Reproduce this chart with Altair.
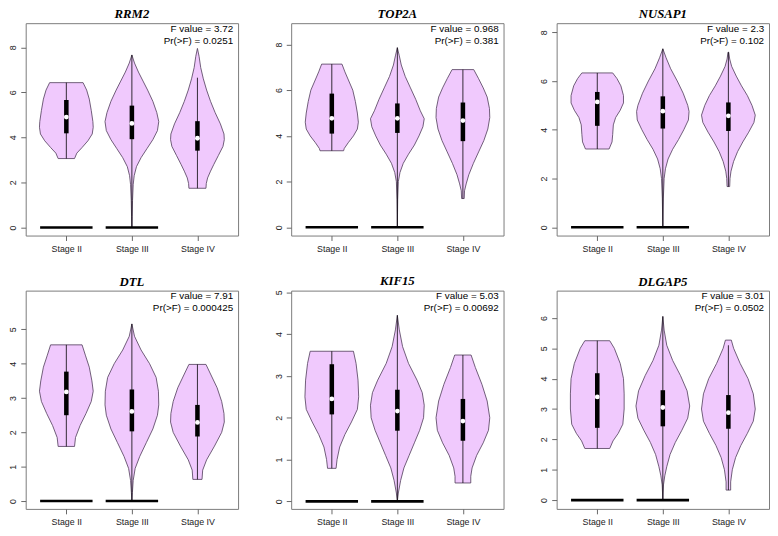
import altair as alt
import pandas as pd

STAGES = ["Stage II", "Stage III", "Stage IV"]
GENES = ["RRM2", "TOP2A", "NUSAP1", "DTL", "KIF15", "DLGAP5"]
F_VALUES = ["3.72", "0.968", "2.3", "7.91", "5.03", "3.01"]
P_VALUES = ["0.0251", "0.381", "0.102", "0.000425", "0.00692", "0.0502"]
ZERO_LINE_STAGES = ["Stage II", "Stage III"]

# violin outlines: (expression, half-width in stage units), top to bottom
RRM2_II = [(6.43, 0.255), (6.1, 0.31), (5.7, 0.35), (5.2, 0.38), (4.7, 0.405), (4.45, 0.41),
           (4.15, 0.395), (3.85, 0.33), (3.55, 0.24), (3.3, 0.16), (3.06, 0.125)]
RRM2_III = [(7.66, 0.0), (7.3, 0.04), (6.9, 0.1), (6.5, 0.17), (6.1, 0.24), (5.6, 0.32), (5.1, 0.38),
            (4.7, 0.41), (4.3, 0.39), (3.9, 0.32), (3.5, 0.23), (3.1, 0.14), (2.7, 0.07), (2.3, 0.035),
            (1.9, 0.02), (1.2, 0.01), (0.5, 0.005), (0.0, 0.0)]
RRM2_IV = [(7.95, 0.0), (7.6, 0.025), (7.1, 0.05), (6.6, 0.09), (6.1, 0.14), (5.6, 0.2), (5.1, 0.27),
           (4.6, 0.35), (4.15, 0.405), (3.9, 0.41), (3.6, 0.39), (3.2, 0.32), (2.8, 0.25), (2.5, 0.2),
           (2.2, 0.155), (1.95, 0.135), (1.74, 0.13)]

TOP2A_II = [(7.14, 0.155), (6.8, 0.2), (6.4, 0.26), (6.0, 0.32), (5.5, 0.36), (5.0, 0.39), (4.6, 0.405),
            (4.3, 0.39), (4.0, 0.33), (3.7, 0.25), (3.45, 0.19), (3.35, 0.18)]
TOP2A_III = [(7.86, 0.0), (7.5, 0.03), (7.1, 0.06), (6.6, 0.12), (6.1, 0.2), (5.6, 0.28), (5.1, 0.35),
             (4.75, 0.41), (4.4, 0.39), (4.0, 0.33), (3.6, 0.26), (3.2, 0.17), (2.8, 0.09), (2.4, 0.04),
             (2.0, 0.015), (1.2, 0.005), (0.0, 0.0)]
TOP2A_IV = [(6.9, 0.165), (6.5, 0.24), (6.1, 0.31), (5.7, 0.37), (5.2, 0.405), (4.8, 0.41), (4.3, 0.38),
            (3.8, 0.32), (3.3, 0.24), (2.8, 0.16), (2.3, 0.09), (1.9, 0.05), (1.6, 0.025), (1.26, 0.02)]

NUSAP1_II = [(6.33, 0.235), (6.1, 0.3), (5.8, 0.36), (5.4, 0.4), (5.1, 0.4), (4.8, 0.35), (4.5, 0.28),
             (4.2, 0.245), (3.8, 0.235), (3.5, 0.225), (3.21, 0.18)]
NUSAP1_III = [(7.32, 0.0), (6.95, 0.05), (6.5, 0.12), (6.0, 0.22), (5.5, 0.31), (5.0, 0.38), (4.75, 0.4),
              (4.4, 0.39), (4.0, 0.32), (3.6, 0.24), (3.2, 0.15), (2.8, 0.08), (2.4, 0.04), (2.0, 0.02),
              (1.2, 0.008), (0.0, 0.0)]
NUSAP1_IV = [(7.18, 0.005), (6.9, 0.02), (6.6, 0.05), (6.2, 0.12), (5.8, 0.2), (5.4, 0.29), (5.0, 0.36),
             (4.6, 0.41), (4.3, 0.39), (3.9, 0.31), (3.5, 0.22), (3.1, 0.14), (2.7, 0.08), (2.3, 0.04),
             (2.0, 0.025), (1.67, 0.02)]

DTL_II = [(4.55, 0.24), (4.25, 0.29), (3.9, 0.35), (3.5, 0.39), (3.2, 0.41), (2.9, 0.38), (2.55, 0.3),
          (2.2, 0.21), (1.85, 0.14), (1.59, 0.125)]
DTL_III = [(5.16, 0.0), (4.8, 0.04), (4.4, 0.14), (4.0, 0.27), (3.6, 0.37), (3.2, 0.405), (2.8, 0.41),
           (2.5, 0.39), (2.1, 0.32), (1.7, 0.22), (1.3, 0.12), (0.95, 0.05), (0.6, 0.02), (0.25, 0.008),
           (0.0, 0.0)]
DTL_IV = [(3.98, 0.13), (3.7, 0.2), (3.3, 0.3), (2.9, 0.37), (2.55, 0.405), (2.3, 0.41), (2.0, 0.37),
          (1.6, 0.26), (1.2, 0.14), (0.9, 0.08), (0.63, 0.07)]

KIF15_II = [(3.59, 0.33), (3.3, 0.37), (2.9, 0.4), (2.5, 0.41), (2.2, 0.39), (1.9, 0.3), (1.6, 0.2),
            (1.3, 0.12), (1.0, 0.08), (0.79, 0.065)]
KIF15_III = [(4.45, 0.0), (4.1, 0.03), (3.7, 0.08), (3.3, 0.17), (2.9, 0.3), (2.6, 0.38), (2.3, 0.41),
             (2.0, 0.4), (1.7, 0.34), (1.4, 0.26), (1.1, 0.18), (0.8, 0.1), (0.5, 0.05), (0.2, 0.015),
             (0.0, 0.0)]
KIF15_IV = [(3.5, 0.125), (3.2, 0.19), (2.8, 0.29), (2.4, 0.37), (2.0, 0.41), (1.7, 0.39), (1.4, 0.31),
            (1.1, 0.21), (0.8, 0.14), (0.6, 0.12), (0.44, 0.12)]

DLGAP5_II = [(5.25, 0.19), (5.0, 0.26), (4.5, 0.35), (4.0, 0.4), (3.5, 0.41), (3.0, 0.41), (2.5, 0.39),
             (2.2, 0.32), (1.95, 0.24), (1.7, 0.19)]
DLGAP5_III = [(6.05, 0.0), (5.6, 0.02), (5.1, 0.06), (4.6, 0.15), (4.1, 0.27), (3.6, 0.37), (3.1, 0.41),
              (2.7, 0.38), (2.3, 0.29), (1.9, 0.19), (1.5, 0.11), (1.1, 0.06), (0.8, 0.03), (0.5, 0.01),
              (0.0, 0.0)]
DLGAP5_IV = [(5.27, 0.045), (5.0, 0.08), (4.5, 0.18), (4.0, 0.3), (3.5, 0.38), (3.0, 0.41), (2.6, 0.38),
             (2.2, 0.29), (1.8, 0.19), (1.4, 0.11), (1.0, 0.06), (0.6, 0.035), (0.33, 0.035)]

# box statistics per stage: (whisker low, Q1, median, Q3, whisker high)
RRM2_BOX = [(3.06, 4.18, 4.9, 5.66, 6.43), (0.0, 3.92, 4.62, 5.41, 7.66), (1.74, 3.41, 3.96, 4.72, 6.65)]
TOP2A_BOX = [(3.35, 4.1, 4.77, 5.85, 7.14), (0.0, 4.13, 4.77, 5.42, 7.86), (1.26, 3.77, 4.67, 5.46, 6.9)]
NUSAP1_BOX = [(3.21, 4.16, 5.14, 5.55, 6.33), (0.0, 4.05, 4.76, 5.37, 7.32), (1.67, 3.95, 4.57, 5.12, 7.18)]
DTL_BOX = [(1.59, 2.5, 3.18, 3.77, 4.55), (0.0, 2.03, 2.61, 3.25, 5.16), (0.63, 1.88, 2.29, 2.8, 3.98)]
KIF15_BOX = [(0.79, 2.08, 2.45, 3.28, 3.59), (0.0, 1.69, 2.16, 2.67, 4.45), (0.44, 1.45, 1.92, 2.45, 3.5)]
DLGAP5_BOX = [(1.7, 2.38, 3.4, 4.18, 5.25), (0.0, 2.43, 3.05, 3.62, 6.05), (0.33, 2.35, 2.88, 3.46, 5.1)]

Y_DOMAINS = [[-0.36, 9.07], [-0.36, 8.93], [-0.34, 8.37], [-0.23, 6.13], [-0.18, 5.04], [-0.29, 6.9]]
Y_TICKS = [[0, 2, 4, 6, 8], [0, 2, 4, 6, 8], [0, 2, 4, 6, 8], [0, 1, 2, 3, 4, 5], [0, 1, 2, 3, 4, 5],
           [0, 1, 2, 3, 4, 5, 6]]

VIOLINS = [
    [RRM2_II, RRM2_III, RRM2_IV],
    [TOP2A_II, TOP2A_III, TOP2A_IV],
    [NUSAP1_II, NUSAP1_III, NUSAP1_IV],
    [DTL_II, DTL_III, DTL_IV],
    [KIF15_II, KIF15_III, KIF15_IV],
    [DLGAP5_II, DLGAP5_III, DLGAP5_IV],
]
BOXES = [RRM2_BOX, TOP2A_BOX, NUSAP1_BOX, DTL_BOX, KIF15_BOX, DLGAP5_BOX]

FILL = "#F0C9FD"
OUTLINE = "#4d3a57"
W = 216
HEIGHTS = [216, 216, 216, 222, 222, 222]


def panel(k):
    h = HEIGHTS[k]
    xs = alt.Scale(domain=[0.38, 3.62], nice=False, zero=False)
    ys = alt.Scale(domain=Y_DOMAINS[k], nice=False, zero=False)
    xax = alt.Axis(values=[1, 2, 3], title=None, grid=False, domain=False, tickSize=5,
                   labelPadding=4, labelFontSize=9,
                   labelExpr="datum.value == 1 ? '%s' : datum.value == 2 ? '%s' : '%s'" % tuple(STAGES))
    yax = alt.Axis(values=Y_TICKS[k], title=None, grid=False, domain=False, tickSize=5,
                   labelPadding=3, labelFontSize=9, labelAngle=270, labelAlign="center",
                   labelBaseline="bottom")

    vrows = []
    for i, pts in enumerate(VIOLINS[k]):
        pos = i + 1
        for y, hw in pts:
            vrows.append({"stage": STAGES[i], "y": y, "xl": pos - hw, "xr": pos + hw})
    vdf = pd.DataFrame(vrows)

    brows = []
    for i, (lo, q1, med, q3, hi) in enumerate(BOXES[k]):
        brows.append({"stage": STAGES[i], "pos": i + 1, "lo": lo, "q1": q1, "med": med, "q3": q3, "hi": hi})
    bdf = pd.DataFrame(brows)

    zrows = []
    for s in ZERO_LINE_STAGES:
        pos = STAGES.index(s) + 1
        zrows.append({"x0": pos - 0.4, "x1": pos + 0.4, "y": 0.0})
    zdf = pd.DataFrame(zrows)

    tdf = pd.DataFrame({"label": ["F value = %s\nPr(>F) = %s" % (F_VALUES[k], P_VALUES[k])]})

    violin = alt.Chart(vdf).mark_area(orient="horizontal", fill=FILL, stroke=OUTLINE,
                                      strokeWidth=0.8, fillOpacity=1).encode(
        y=alt.Y("y:Q", scale=ys, axis=yax),
        x=alt.X("xl:Q", scale=xs, axis=xax),
        x2="xr:Q",
        detail="stage:N",
    )
    zero = alt.Chart(zdf).mark_rule(color="black", strokeWidth=2.6, strokeCap="butt").encode(
        x=alt.X("x0:Q", scale=xs, axis=xax), x2="x1:Q",
        y=alt.Y("y:Q", scale=ys, axis=yax),
    )
    whisk = alt.Chart(bdf).mark_rule(color="black", strokeWidth=0.8).encode(
        x=alt.X("pos:Q", scale=xs, axis=xax),
        y=alt.Y("lo:Q", scale=ys, axis=yax), y2="hi:Q",
    )
    box = alt.Chart(bdf).mark_rule(color="black", strokeWidth=4.6, strokeCap="butt").encode(
        x=alt.X("pos:Q", scale=xs, axis=xax),
        y=alt.Y("q1:Q", scale=ys, axis=yax), y2="q3:Q",
    )
    med = alt.Chart(bdf).mark_point(filled=True, color="white", opacity=1, size=24, shape="circle").encode(
        x=alt.X("pos:Q", scale=xs, axis=xax),
        y=alt.Y("med:Q", scale=ys, axis=yax),
    )
    txt = alt.Chart(tdf).mark_text(align="right", baseline="top", lineBreak="\n", fontSize=10,
                                   font="Liberation Sans", lineHeight=12, color="black").encode(
        x=alt.value(W - 5), y=alt.value(1), text="label:N",
    )
    return alt.layer(violin, zero, whisk, box, med, txt).properties(
        width=W, height=h, title=alt.Title(GENES[k]))


row1 = alt.hconcat(panel(0), panel(1), panel(2), spacing=35)
row2 = alt.hconcat(panel(3), panel(4), panel(5), spacing=35)
chart = alt.vconcat(row1, row2, spacing=20).properties(
    padding={"left": 0, "top": -5, "right": 0, "bottom": -2}
).configure_view(
    stroke="#7a7a7a", strokeWidth=1
).configure_title(
    font="Liberation Serif", fontStyle="italic", fontWeight="bold", fontSize=13, offset=2,
    anchor="middle", color="black"
).configure_axis(
    labelFont="Liberation Sans", labelColor="#222222", tickColor="#666666"
)

chart.save("out.html", embed_options={"renderer": "svg", "actions": False})
